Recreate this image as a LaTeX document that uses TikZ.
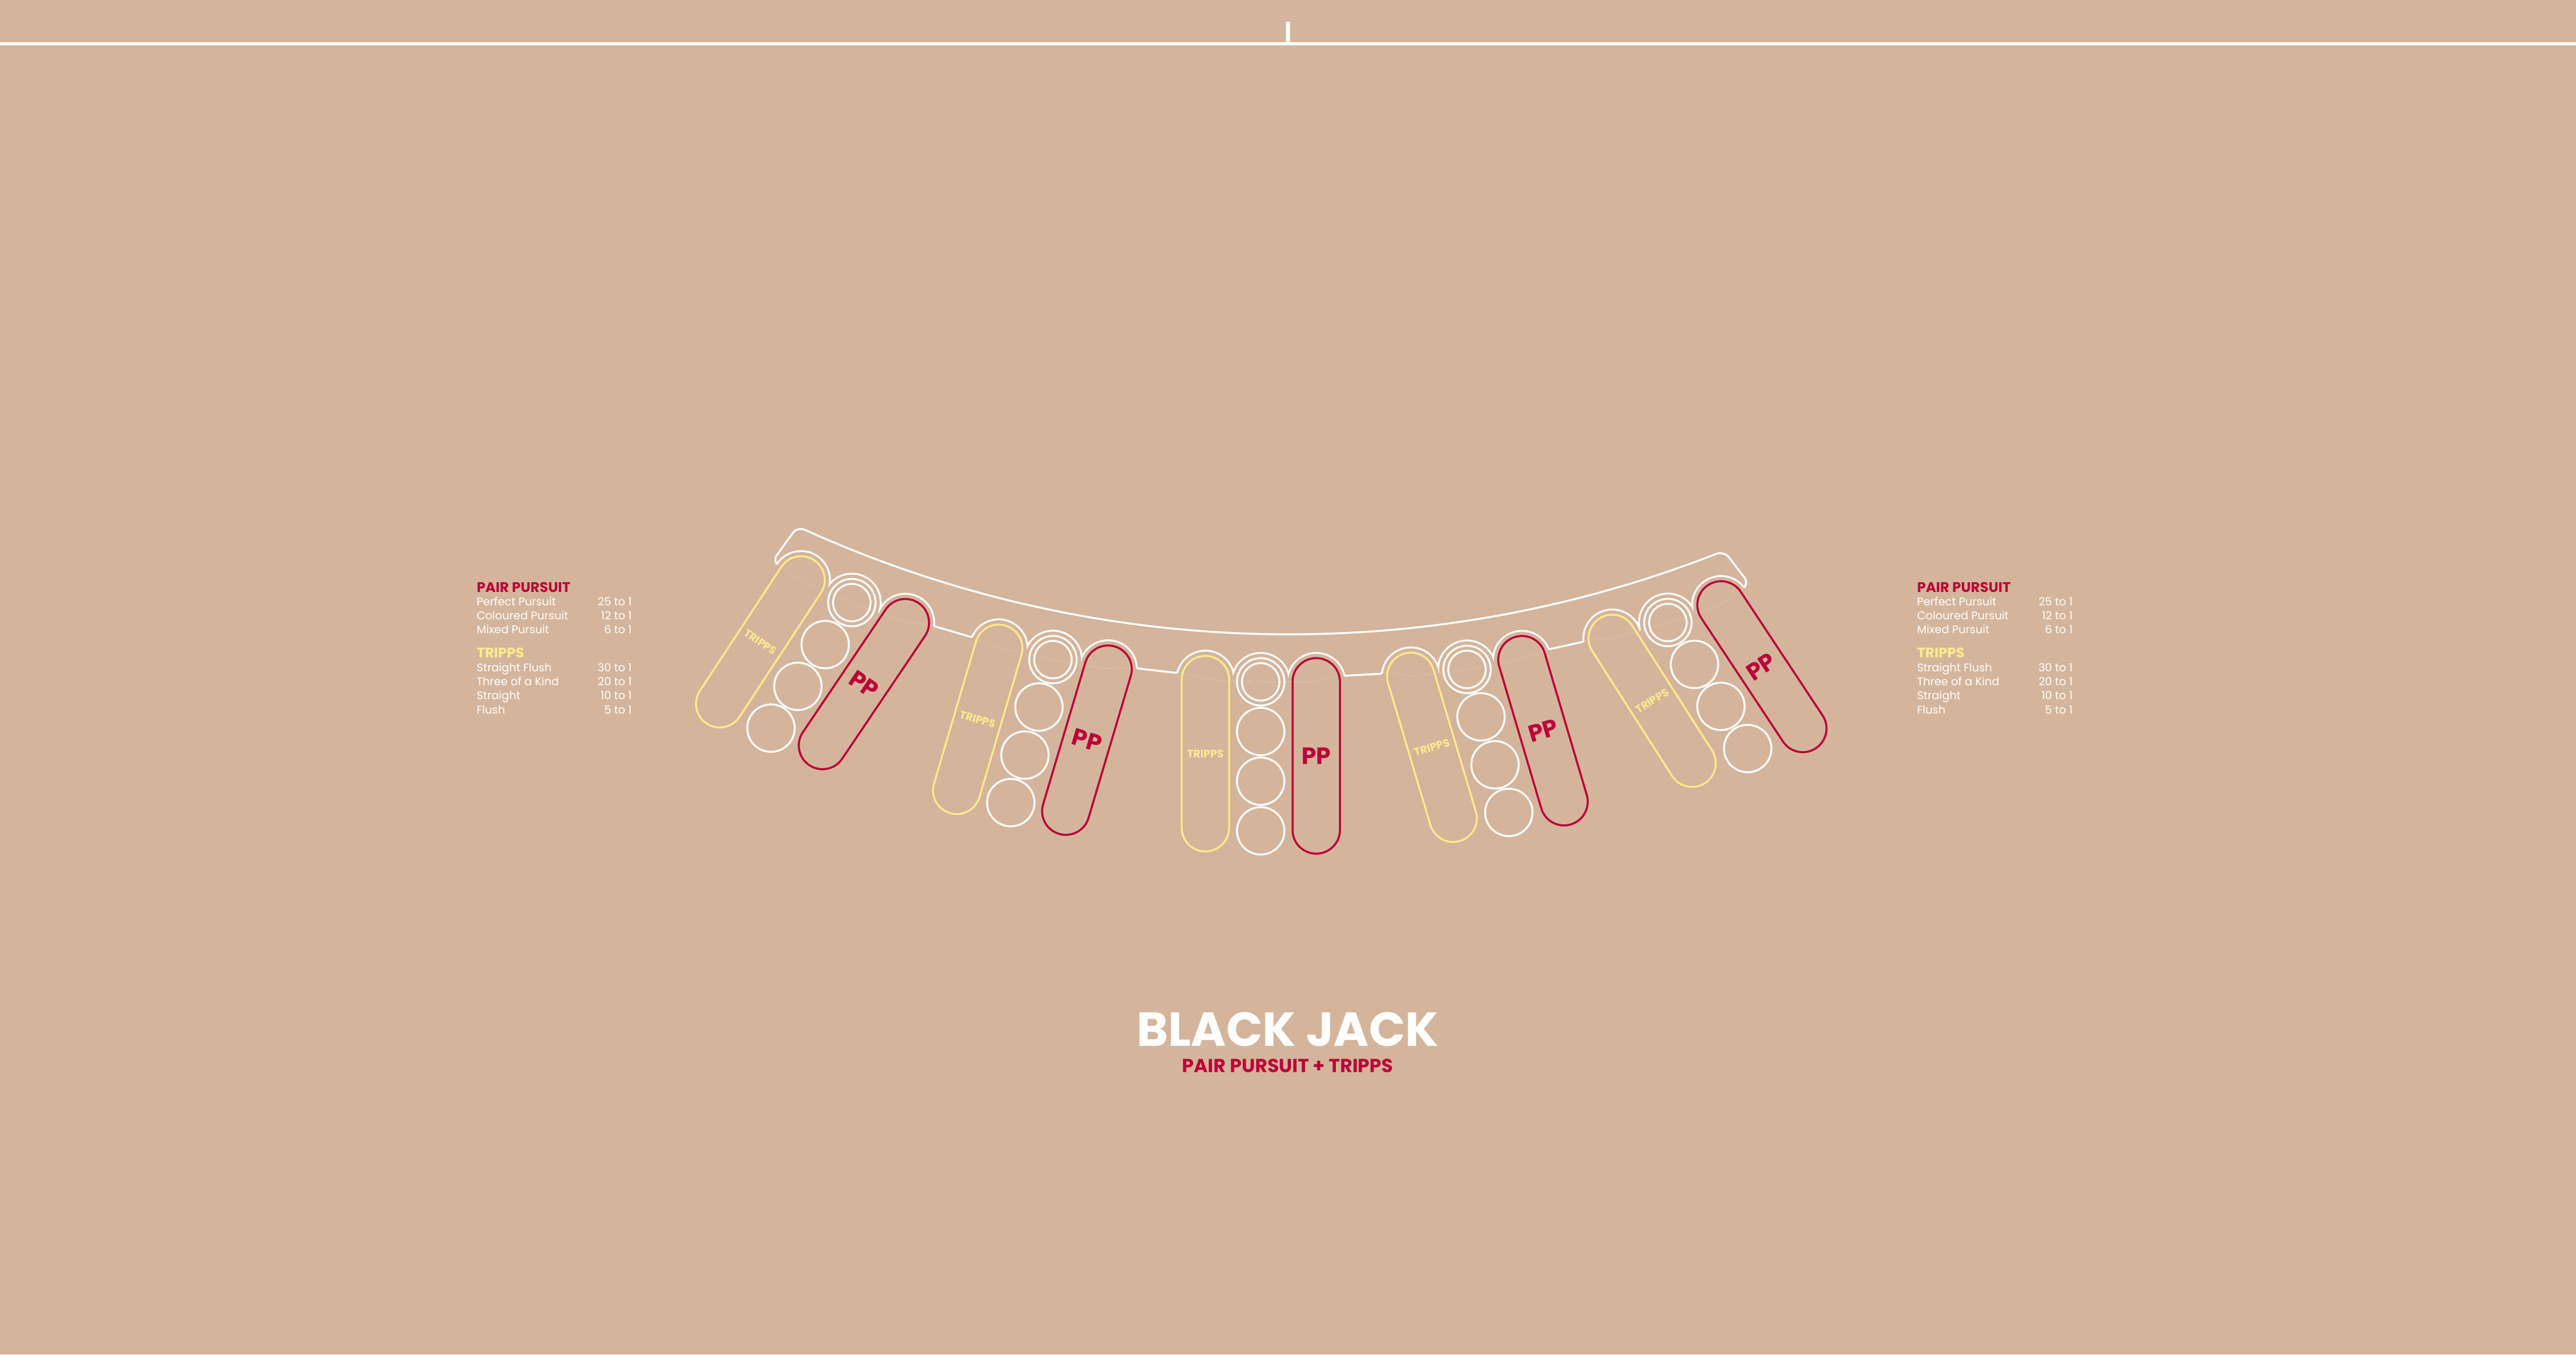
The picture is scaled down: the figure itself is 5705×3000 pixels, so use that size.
\documentclass[tikz,border=0pt]{standalone}
\usepackage{fontspec}
\setmainfont{Poppins}
\usetikzlibrary{calc}
\definecolor{bgtan}{RGB}{212,181,156}
\definecolor{ppred}{RGB}{187,0,56}
\definecolor{tyellow}{RGB}{251,234,140}
\newcommand\pillshape[4]{%
  \draw[#4, shift={(#1,#2)}, rotate=#3] (-52.5,-216.5) rectangle (52.5,216.5);}
\newcommand\bandpath{(T1) -- (C1) -- (P1) -- (A1) -- (A2) -- (T2) -- (C2) -- (P2) -- (B1) -- (B2) -- (T3) -- (C3) -- (P3) -- (E1) -- (E2) -- (T4) -- (C4) -- (P4) -- (D1) -- (D2) -- (T5) -- (C5) -- (P5) -- (tipR) -- plot[domain=68.26:114.76, samples=61] ({2855+2600*cos(\x)},{-1195+2600*sin(\x)}) -- (tipL) -- cycle}
\newcommand\bumps[1]{(T1) circle[radius=#1] (C1) circle[radius=#1] (P1) circle[radius=#1]
 (T2) circle[radius=#1] (C2) circle[radius=#1] (P2) circle[radius=#1]
 (T3) circle[radius=#1] (C3) circle[radius=#1] (P3) circle[radius=#1]
 (T4) circle[radius=#1] (C4) circle[radius=#1] (P4) circle[radius=#1]
 (T5) circle[radius=#1] (C5) circle[radius=#1] (P5) circle[radius=#1]}
\newcommand\outside[1]{\clip (-300,-300) rectangle (6000,3300) (#1) circle[radius=64];}
\begin{document}
\begin{tikzpicture}[x=0.01cm, y=-0.01cm,
  outl/.style={white, line width=1.2pt},
  chip/.style={white, line width=1.2pt},
  trippsline/.style={tyellow, line width=1.2pt, rounded corners=14.9pt},
  ppline/.style={ppred, line width=1.3pt, rounded corners=14.9pt},
  tlabel/.style={text=tyellow, inner sep=0pt, font=\fontsize{6.8pt}{6.8pt}\selectfont\bfseries},
  plabel/.style={text=ppred, inner sep=0pt, font=\fontsize{14.9pt}{14.9pt}\selectfont\bfseries},
  leghead/.style={anchor=base west, inner sep=0pt, font=\fontsize{8.8pt}{8.8pt}\selectfont\bfseries},
  legitem/.style={anchor=base west, inner sep=0pt, text=white, font=\fontsize{7pt}{7pt}\selectfont},
  legval/.style={anchor=base east, inner sep=0pt, text=white, font=\fontsize{7pt}{7pt}\selectfont},
]
\path[use as bounding box] (0,0) rectangle (5705,3000);
\fill[bgtan] (0,0) rectangle (5705,3000);

% top rail line and centre tick
\coordinate (railL) at (0,97);
\coordinate (railR) at (5705,97);
\coordinate (tickTop) at (2852.8,48);
\coordinate (tickBot) at (2852.8,97);
\draw[white, line width=2.2pt] (railL) -- (railR);
\draw[white, line width=2.56pt] (tickTop) -- (tickBot);

% bump centres and outline points
\coordinate (T1) at (1774,1284.4);  \coordinate (C1) at (1886.5,1334.5); \coordinate (P1) at (2005,1379);
\coordinate (A1) at (2048.8,1380.9); \coordinate (A2) at (2173.2,1417.3);
\coordinate (T2) at (2211.7,1435.7); \coordinate (C2) at (2331.9,1460.8); \coordinate (P2) at (2454,1482);
\coordinate (B1) at (2497.1,1477.7); \coordinate (B2) at (2629.9,1493);
\coordinate (T3) at (2669.5,1505);  \coordinate (C3) at (2792,1510);     \coordinate (P3) at (2915,1510);
\coordinate (E1) at (2956.7,1497.8); \coordinate (E2) at (3083.8,1490.6);
\coordinate (T4) at (3124.4,1497.8); \coordinate (C4) at (3248.9,1482.5); \coordinate (P4) at (3370.6,1461);
\coordinate (D1) at (3409.3,1442.6); \coordinate (D2) at (3528.8,1416.3);
\coordinate (T5) at (3570.6,1413.9); \coordinate (C5) at (3693.8,1378.6); \coordinate (P5) at (3811.5,1339.7);
\coordinate (tipR) at (3874,1293);
\coordinate (tipL) at (1710,1244);

% bumps (boundary of the band minus the discs)
\begin{scope}
  \clip[rounded corners=5pt] \bandpath;
  \fill[white] \bumps{66.1};
  \fill[bgtan] \bumps{61.9};
\end{scope}
\begin{scope}[even odd rule]
  \outside{T1}\outside{C1}\outside{P1}
  \outside{T2}\outside{C2}\outside{P2}
  \outside{T3}\outside{C3}\outside{P3}
  \outside{T4}\outside{C4}\outside{P4}
  \outside{T5}\outside{C5}\outside{P5}
  \draw[outl, rounded corners=5pt, nonzero rule] \bandpath;
\end{scope}

% pills
\pillshape{1684}{1421.5}{-33.3}{trippsline}
\pillshape{1913.3}{1515}{-34}{ppline}
\pillshape{2165.3}{1593}{-16.45}{trippsline}
\pillshape{2407.2}{1639.2}{-16.57}{ppline}
\pillshape{2669.5}{1669}{0}{trippsline}
\pillshape{2915}{1674}{0}{ppline}
\pillshape{3171.3}{1655}{16.6}{trippsline}
\pillshape{3417.2}{1618.2}{16.5}{ppline}
\pillshape{3659}{1552}{32.6}{trippsline}
\pillshape{3902}{1476.5}{33.5}{ppline}

\node[tlabel, rotate=-33.3] (tr1) at (1684,1421.5) {TRIPPS};
\node[plabel, rotate=-34] (pp1) at (1913.3,1515) {PP};
\node[tlabel, rotate=-16.45] (tr2) at (2165.3,1593) {TRIPPS};
\node[plabel, rotate=-16.57] (pp2) at (2407.2,1639.2) {PP};
\node[tlabel] (tr3) at (2669.5,1669) {TRIPPS};
\node[plabel] (pp3) at (2915,1674) {PP};
\node[tlabel, rotate=16.6] (tr4) at (3171.3,1655) {TRIPPS};
\node[plabel, rotate=16.5] (pp4) at (3417.2,1618.2) {PP};
\node[tlabel, rotate=32.6] (tr5) at (3659,1552) {TRIPPS};
\node[plabel, rotate=33.5] (pp5) at (3900,1476.5) {PP};

% betting circles
\foreach \cx/\cy in {1886.5/1334.5, 2331.9/1460.8, 2792/1510, 3248.9/1482.5, 3693.8/1378.6}{
  \draw[chip] (\cx,\cy) circle[radius=52.5];
  \draw[chip] (\cx,\cy) circle[radius=41.5];
}
\foreach \cx/\cy in {1827.5/1427.5, 1767/1520, 1707.5/1612.5,
                     2300.9/1565.8, 2269.9/1672.2, 2238.5/1777.5,
                     2792/1620, 2792/1730, 2792/1840,
                     3279.9/1587.5, 3310.9/1693.7, 3341.5/1799.2,
                     3752.7/1471.4, 3811.3/1564.3, 3870.5/1657.7}{
  \draw[chip] (\cx,\cy) circle[radius=52.5];
}

% pay tables
\foreach \side/\xl/\xr in {L/1055/1400, R/4245/4591}{
  \node[leghead, text=ppred] (\side h1) at (\xl,1311.7) {PAIR PURSUIT};
  \node[legitem] (\side a1) at (\xl,1340.7) {Perfect Pursuit};
  \node[legval]  (\side b1) at (\xr,1340.7) {25 to 1};
  \node[legitem] (\side a2) at (\xl,1371.7) {Coloured Pursuit};
  \node[legval]  (\side b2) at (\xr,1371.7) {12 to 1};
  \node[legitem] (\side a3) at (\xl,1403.3) {Mixed Pursuit};
  \node[legval]  (\side b3) at (\xr,1403.3) {6 to 1};
  \node[leghead, text=tyellow] (\side h2) at (\xl,1456.7) {TRIPPS};
  \node[legitem] (\side a4) at (\xl,1487.7) {Straight Flush};
  \node[legval]  (\side b4) at (\xr,1487.7) {30 to 1};
  \node[legitem] (\side a5) at (\xl,1518.3) {Three of a Kind};
  \node[legval]  (\side b5) at (\xr,1518.3) {20 to 1};
  \node[legitem] (\side a6) at (\xl,1549.3) {Straight};
  \node[legval]  (\side b6) at (\xr,1549.3) {10 to 1};
  \node[legitem] (\side a7) at (\xl,1580.7) {Flush};
  \node[legval]  (\side b7) at (\xr,1580.7) {5 to 1};
}

% title
\node[anchor=base, inner sep=0pt, text=white, font=\fontsize{30.1pt}{30.1pt}\selectfont\bfseries] (title) at (2852,2317) {BLACK JACK};
\node[anchor=base, inner sep=0pt, text=ppred, font=\fontsize{11.9pt}{11.9pt}\selectfont\bfseries] (subtitle) at (2852,2375) {PAIR PURSUIT + TRIPPS};
\end{tikzpicture}
\end{document}
